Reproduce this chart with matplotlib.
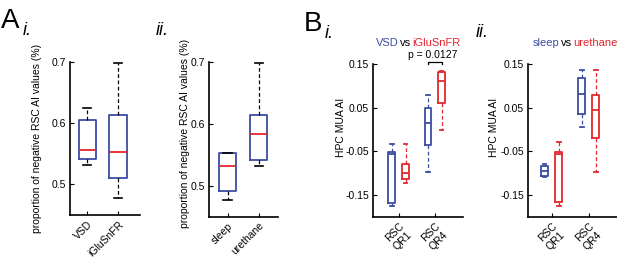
import numpy as np
import matplotlib
matplotlib.use("Agg")
import matplotlib.pyplot as plt

plt.rcParams['font.family'] = ['Liberation Sans', 'DejaVu Sans']

BLUE = '#3c4da3'
RED = '#e3262f'

# Panel A i: proportion of negative RSC AI values (five-number summaries)
a1_labels = ['VSD', 'iGluSnFR']
a1_low = [0.531, 0.477]
a1_q1 = [0.541, 0.510]
a1_med = [0.556, 0.5525]
a1_q3 = [0.605, 0.613]
a1_high = [0.625, 0.698]

# Panel A ii
a2_labels = ['sleep', 'urethane']
a2_low = [0.477, 0.531]
a2_q1 = [0.492, 0.542]
a2_med = [0.531, 0.584]
a2_q3 = [0.552, 0.614]
a2_high = [0.553, 0.698]

# Panel B: HPC MUA AI for RSC QR1 / QR4
b_labels = ['RSC\nQR1', 'RSC\nQR4']
# B i, VSD (blue) and iGluSnFR (red)
b1_blue_low = [-0.174, -0.097]
b1_blue_q1 = [-0.167, -0.036]
b1_blue_med = [-0.057, 0.015]
b1_blue_q3 = [-0.052, 0.050]
b1_blue_high = [-0.034, 0.078]
b1_red_low = [-0.123, -0.001]
b1_red_q1 = [-0.112, 0.061]
b1_red_med = [-0.100, 0.111]
b1_red_q3 = [-0.079, 0.132]
b1_red_high = [-0.032, 0.134]
# B ii, sleep (blue) and urethane (red)
b2_blue_low = [-0.109, 0.005]
b2_blue_q1 = [-0.107, 0.036]
b2_blue_med = [-0.095, 0.081]
b2_blue_q3 = [-0.084, 0.117]
b2_blue_high = [-0.078, 0.136]
b2_red_low = [-0.175, -0.097]
b2_red_q1 = [-0.166, -0.020]
b2_red_med = [-0.057, 0.044]
b2_red_q3 = [-0.052, 0.080]
b2_red_high = [-0.029, 0.136]

W, H = 617, 258


def make_stats(low, q1, med, q3, high):
    return [dict(whislo=a, q1=b, med=c, q3=d, whishi=e, fliers=[])
            for a, b, c, d, e in zip(low, q1, med, q3, high)]


def px_axes(fig, left, top, right, bottom):
    return fig.add_axes([left / W, 1 - bottom / H, (right - left) / W, (bottom - top) / H])


def style_axes(ax):
    for s in ['top', 'right']:
        ax.spines[s].set_visible(False)
    for s in ['left', 'bottom']:
        ax.spines[s].set_linewidth(1.2)
    ax.tick_params(direction='in', length=3, width=0.8, labelsize=7.5, pad=3)


def draw_a(ax, stats, labels):
    ax.bxp(stats, positions=[1, 2], widths=0.55, showfliers=False,
           boxprops=dict(color=BLUE, linewidth=1.3),
           medianprops=dict(color=RED, linewidth=1.3),
           whiskerprops=dict(color='black', linewidth=0.9, linestyle=(0, (3, 2))),
           capprops=dict(color='black', linewidth=1.2),
           manage_ticks=False)
    ax.set_ylim(0.45, 0.7)
    ax.set_yticks([0.5, 0.6, 0.7])
    ax.set_yticklabels(['0.5', '0.6', '0.7'])
    ax.set_xticks([1, 2])
    ax.set_xticklabels(labels, rotation=45, ha='right', rotation_mode='anchor')
    ax.set_ylabel('proportion of negative RSC AI values (%)', fontsize=7.5)
    style_axes(ax)


def draw_b(ax, blue_stats, red_stats):
    for stats, pos, col in [(blue_stats, [0.81, 1.81], BLUE), (red_stats, [1.19, 2.19], RED)]:
        ax.bxp(stats, positions=pos, widths=0.19, showfliers=False,
               boxprops=dict(color=col, linewidth=1.3),
               medianprops=dict(color=col, linewidth=1.3),
               whiskerprops=dict(color=col, linewidth=0.9, linestyle=(0, (3, 2))),
               capprops=dict(color=col, linewidth=1.3),
               manage_ticks=False)
    ax.set_ylim(-0.2, 0.15)
    ax.set_yticks([-0.15, -0.05, 0.05, 0.15])
    ax.set_yticklabels(['-0.15', '-0.05', '0.05', '0.15'])
    ax.set_xticks([1, 2])
    ax.set_xticklabels(b_labels, rotation=45, ha='right', rotation_mode='anchor')
    ax.set_ylabel('HPC MUA AI', fontsize=7.5)
    style_axes(ax)


fig = plt.figure(figsize=(W / 100, H / 100), dpi=100)

ax1 = px_axes(fig, 70, 62, 140, 215)
draw_a(ax1, make_stats(a1_low, a1_q1, a1_med, a1_q3, a1_high), a1_labels)
ax1.set_xlim(0.45, 2.71)
ax1.yaxis.set_label_coords(-0.40, 0.50)

ax2 = px_axes(fig, 209, 62, 278, 216.5)
draw_a(ax2, make_stats(a2_low, a2_q1, a2_med, a2_q3, a2_high), a2_labels)
ax2.set_xlim(0.41, 2.61)
ax2.yaxis.set_label_coords(-0.27, 0.535)

ax3 = px_axes(fig, 373, 64, 463, 217)
draw_b(ax3, make_stats(b1_blue_low, b1_blue_q1, b1_blue_med, b1_blue_q3, b1_blue_high),
       make_stats(b1_red_low, b1_red_q1, b1_red_med, b1_red_q3, b1_red_high))
ax3.set_xlim(0.29, 2.78)
ax3.yaxis.set_label_coords(-0.295, 0.585)
# significance bracket between the QR4 boxes
ax3.plot([1.81, 1.81, 2.19, 2.19], [0.150, 0.155, 0.155, 0.150], color='black',
         linewidth=0.9, clip_on=False)

ax4 = px_axes(fig, 528, 64, 617, 217)
draw_b(ax4, make_stats(b2_blue_low, b2_blue_q1, b2_blue_med, b2_blue_q3, b2_blue_high),
       make_stats(b2_red_low, b2_red_q1, b2_red_med, b2_red_q3, b2_red_high))
ax4.set_xlim(0.36, 2.76)
ax4.yaxis.set_label_coords(-0.33, 0.585)


def ftext(x, y, s, **kw):
    fig.text(x / W, 1 - y / H, s, **kw)


# panel letters
ftext(1, 28, 'A', fontsize=20, va='baseline')
ftext(23, 35, 'i.', fontsize=13, style='italic', va='baseline')
ftext(156, 35, 'ii.', fontsize=13, style='italic', va='baseline')
ftext(304, 31, 'B', fontsize=20, va='baseline')
ftext(325, 38, 'i.', fontsize=13, style='italic', va='baseline')
ftext(476, 37, 'ii.', fontsize=13, style='italic', va='baseline')

# coloured titles
ftext(405.3, 43, 'vs', fontsize=8, ha='center', va='center')
ftext(398.5, 43, 'VSD', fontsize=8, ha='right', va='center', color=BLUE)
ftext(412.3, 43, 'iGluSnFR', fontsize=8, ha='left', va='center', color=RED)
ftext(432.5, 55, 'p = 0.0127', fontsize=7.5, ha='center', va='center')

ftext(566.5, 43, 'vs', fontsize=8, ha='center', va='center')
ftext(559.5, 43, 'sleep', fontsize=8, ha='right', va='center', color=BLUE)
ftext(573.0, 43, 'urethane', fontsize=8, ha='left', va='center', color=RED)

fig.savefig('out.png', dpi=100)
